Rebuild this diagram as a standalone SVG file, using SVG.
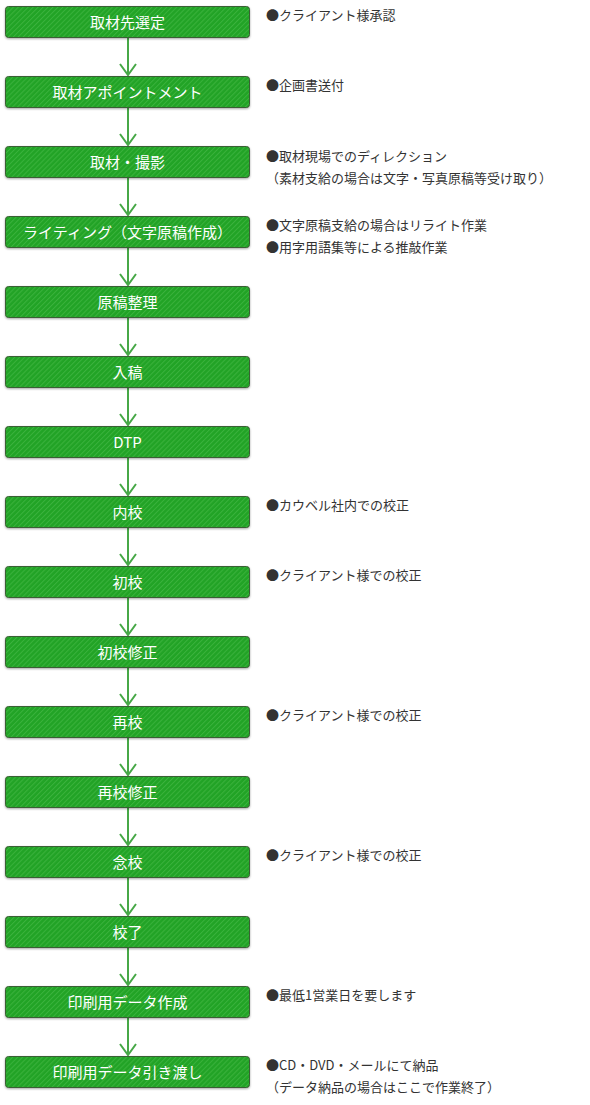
<svg xmlns="http://www.w3.org/2000/svg" width="590" height="1105" viewBox="0 0 590 1105">
<defs>
<pattern id="stripe" width="3.5" height="3.5" patternUnits="userSpaceOnUse" patternTransform="rotate(45)">
<rect width="3.5" height="3.5" fill="#22a326"/>
<rect width="1" height="3.5" fill="#3ab23c"/>
</pattern>
<filter id="sh" x="-5%" y="-20%" width="110%" height="150%">
<feDropShadow dx="0" dy="1" stdDeviation="0.8" flood-color="#000" flood-opacity="0.35"/>
</filter>
</defs>
<style>
.box{fill:url(#stripe);stroke:#3b5e34;stroke-width:1;filter:url(#sh)}
.lbl{font-family:"Noto Sans CJK JP","Noto Sans",sans-serif;font-size:15px;fill:#fff;text-anchor:middle}
.note{font-family:"Noto Sans CJK JP","Noto Sans",sans-serif;font-size:13px;fill:#333}
.conn{stroke:#47a847;stroke-width:2;fill:none}
</style>
<rect width="590" height="1105" fill="#fff"/>
<g id="connectors">
<line class="conn" x1="128" y1="37" x2="128" y2="75"/>
<path class="conn" d="M120,64 L128,75 L136,64"/>
<line class="conn" x1="128" y1="107" x2="128" y2="145"/>
<path class="conn" d="M120,134 L128,145 L136,134"/>
<line class="conn" x1="128" y1="177" x2="128" y2="215"/>
<path class="conn" d="M120,204 L128,215 L136,204"/>
<line class="conn" x1="128" y1="247" x2="128" y2="285"/>
<path class="conn" d="M120,274 L128,285 L136,274"/>
<line class="conn" x1="128" y1="317" x2="128" y2="355"/>
<path class="conn" d="M120,344 L128,355 L136,344"/>
<line class="conn" x1="128" y1="387" x2="128" y2="425"/>
<path class="conn" d="M120,414 L128,425 L136,414"/>
<line class="conn" x1="128" y1="457" x2="128" y2="495"/>
<path class="conn" d="M120,484 L128,495 L136,484"/>
<line class="conn" x1="128" y1="527" x2="128" y2="565"/>
<path class="conn" d="M120,554 L128,565 L136,554"/>
<line class="conn" x1="128" y1="597" x2="128" y2="635"/>
<path class="conn" d="M120,624 L128,635 L136,624"/>
<line class="conn" x1="128" y1="667" x2="128" y2="705"/>
<path class="conn" d="M120,694 L128,705 L136,694"/>
<line class="conn" x1="128" y1="737" x2="128" y2="775"/>
<path class="conn" d="M120,764 L128,775 L136,764"/>
<line class="conn" x1="128" y1="807" x2="128" y2="845"/>
<path class="conn" d="M120,834 L128,845 L136,834"/>
<line class="conn" x1="128" y1="877" x2="128" y2="915"/>
<path class="conn" d="M120,904 L128,915 L136,904"/>
<line class="conn" x1="128" y1="947" x2="128" y2="985"/>
<path class="conn" d="M120,974 L128,985 L136,974"/>
<line class="conn" x1="128" y1="1017" x2="128" y2="1055"/>
<path class="conn" d="M120,1044 L128,1055 L136,1044"/>
</g>
<g id="n0"><rect class="box" x="5.5" y="6.5" width="244" height="31" rx="3"/><text class="lbl" x="127.5" y="28">取材先選定</text></g>
<g id="n1"><rect class="box" x="5.5" y="76.5" width="244" height="31" rx="3"/><text class="lbl" x="127.5" y="98">取材アポイントメント</text></g>
<g id="n2"><rect class="box" x="5.5" y="146.5" width="244" height="31" rx="3"/><text class="lbl" x="127.5" y="168">取材・撮影</text></g>
<g id="n3"><rect class="box" x="5.5" y="216.5" width="244" height="31" rx="3"/><text class="lbl" x="127.5" y="238">ライティング（文字原稿作成）</text></g>
<g id="n4"><rect class="box" x="5.5" y="286.5" width="244" height="31" rx="3"/><text class="lbl" x="127.5" y="308">原稿整理</text></g>
<g id="n5"><rect class="box" x="5.5" y="356.5" width="244" height="31" rx="3"/><text class="lbl" x="127.5" y="378">入稿</text></g>
<g id="n6"><rect class="box" x="5.5" y="426.5" width="244" height="31" rx="3"/><text class="lbl" x="127.5" y="448">DTP</text></g>
<g id="n7"><rect class="box" x="5.5" y="496.5" width="244" height="31" rx="3"/><text class="lbl" x="127.5" y="518">内校</text></g>
<g id="n8"><rect class="box" x="5.5" y="566.5" width="244" height="31" rx="3"/><text class="lbl" x="127.5" y="588">初校</text></g>
<g id="n9"><rect class="box" x="5.5" y="636.5" width="244" height="31" rx="3"/><text class="lbl" x="127.5" y="658">初校修正</text></g>
<g id="n10"><rect class="box" x="5.5" y="706.5" width="244" height="31" rx="3"/><text class="lbl" x="127.5" y="728">再校</text></g>
<g id="n11"><rect class="box" x="5.5" y="776.5" width="244" height="31" rx="3"/><text class="lbl" x="127.5" y="798">再校修正</text></g>
<g id="n12"><rect class="box" x="5.5" y="846.5" width="244" height="31" rx="3"/><text class="lbl" x="127.5" y="868">念校</text></g>
<g id="n13"><rect class="box" x="5.5" y="916.5" width="244" height="31" rx="3"/><text class="lbl" x="127.5" y="938">校了</text></g>
<g id="n14"><rect class="box" x="5.5" y="986.5" width="244" height="31" rx="3"/><text class="lbl" x="127.5" y="1008">印刷用データ作成</text></g>
<g id="n15"><rect class="box" x="5.5" y="1056.5" width="244" height="31" rx="3"/><text class="lbl" x="127.5" y="1078">印刷用データ引き渡し</text></g>
<g id="notes">
<text class="note" x="266" y="20">●クライアント様承認</text>
<text class="note" x="266" y="90">●企画書送付</text>
<text class="note" x="266" y="161">●取材現場でのディレクション</text>
<text class="note" x="266" y="183">（素材支給の場合は文字・写真原稿等受け取り）</text>
<text class="note" x="266" y="230">●文字原稿支給の場合はリライト作業</text>
<text class="note" x="266" y="252">●用字用語集等による推敲作業</text>
<text class="note" x="266" y="510">●カウベル社内での校正</text>
<text class="note" x="266" y="580">●クライアント様での校正</text>
<text class="note" x="266" y="720">●クライアント様での校正</text>
<text class="note" x="266" y="860">●クライアント様での校正</text>
<text class="note" x="266" y="1000">●最低1営業日を要します</text>
<text class="note" x="266" y="1070">●CD・DVD・メールにて納品</text>
<text class="note" x="266" y="1092">（データ納品の場合はここで作業終了）</text>
</g>
</svg>
